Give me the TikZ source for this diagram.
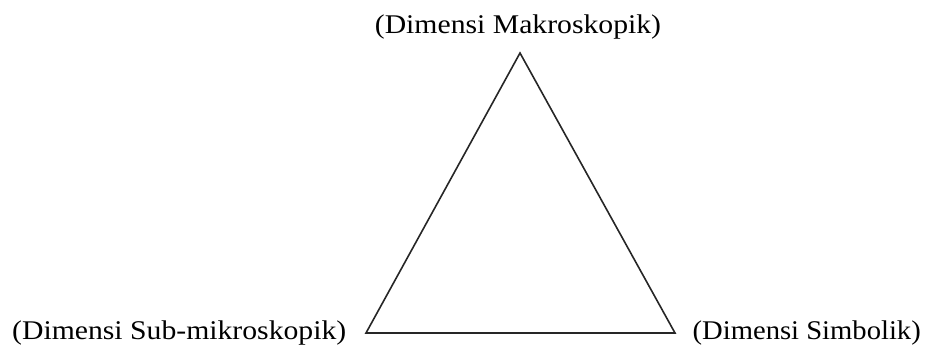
\documentclass[tikz,border=0pt]{standalone}
\usepackage{fontspec}
\setmainfont{Liberation Serif}
\usepackage{graphicx}
\begin{document}
\begin{tikzpicture}[x=1pt,y=1pt,lab/.style={inner sep=0pt,font=\fontsize{27}{27}\selectfont}, side/.style={line width=1.6pt,color=black!85,line join=miter}]
\useasboundingbox (0,0) rectangle (925,345);

\node[lab,anchor=base] at (518,311) (makro) {\scalebox{1.1}[1]{(Dimensi Makroskopik)}};
\node[lab,anchor=base west] at (12,6) (sub) {\scalebox{1.1}[1]{(Dimensi Sub-mikroskopik)}};
\node[lab,anchor=base east] at (921,6) (simb) {\scalebox{1.06}[1]{(Dimensi Simbolik)}};

\coordinate (a_1) at (520,292);
\coordinate (a_2) at (366,12);
\coordinate (a_3) at (675,12);

\draw[side] (a_1) -- (a_2) -- (a_3) -- cycle;

\end{tikzpicture}
\end{document}
